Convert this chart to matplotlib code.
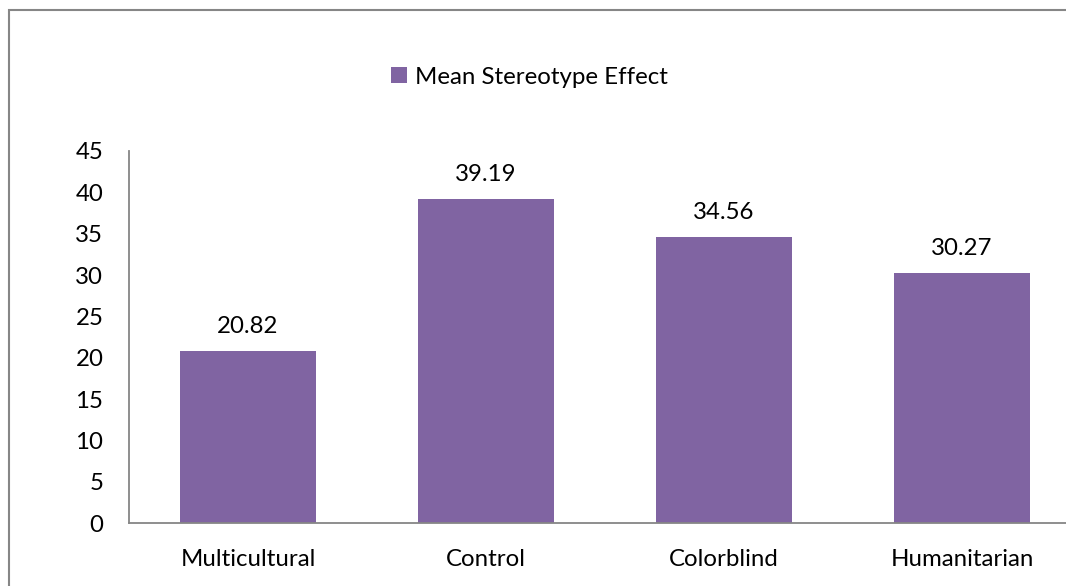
import matplotlib
matplotlib.use("Agg")
import matplotlib.pyplot as plt
from matplotlib.patches import Rectangle

categories = ["Multicultural", "Control", "Colorblind", "Humanitarian"]
values = [20.82, 39.19, 34.56, 30.27]
series_name = "Mean Stereotype Effect"
yticks = [0, 5, 10, 15, 20, 25, 30, 35, 40, 45]

W, H = 1066, 586
FS = 17.3
plt.rcParams['font.family'] = ['Lato', 'DejaVu Sans']
fig = plt.figure(figsize=(W / 100, H / 100), dpi=100)

# outer border (cropped at right/bottom)
fig.patches.append(Rectangle((9 / W, -0.2), 2.0, (H - 10) / H + 0.2,
                             transform=fig.transFigure, fill=False,
                             edgecolor='#868686', linewidth=1.5))

left, right, top, bottom = 129, 129 + 4 * 238, 151, 523
ax = fig.add_axes([left / W, (H - bottom) / H, (right - left) / W, (bottom - top) / H])
color = '#8064A2'
x = list(range(len(categories)))
bars = ax.bar(x, values, width=0.571, color=color, label=series_name)
ax.set_xlim(-0.5, len(categories) - 0.5)
ax.set_ylim(0, 45)
ax.set_yticks(yticks)
ax.set_xticks(x)
ax.set_xticklabels(categories)
for s in ['top', 'right']:
    ax.spines[s].set_visible(False)
for s in ['left', 'bottom']:
    ax.spines[s].set_color('#868686')
    ax.spines[s].set_linewidth(1.3)
ax.tick_params(axis='both', length=0, labelsize=FS, colors='black')
ax.tick_params(axis='y', pad=18.5)
ax.tick_params(axis='x', pad=19)

for xi, v in zip(x, values):
    ax.annotate(f"{v:.2f}", (xi, v), xytext=(0, 10), textcoords='offset points',
                ha='center', va='bottom', fontsize=FS)

leg = fig.legend(handles=[bars], labels=[series_name], loc='center left',
                 bbox_to_anchor=(391 / W, (H - 77) / H), frameon=False,
                 fontsize=FS, handlelength=0.65, handleheight=0.65,
                 handletextpad=0.35, borderaxespad=0, borderpad=0)

fig.savefig("out.png", dpi=100)
